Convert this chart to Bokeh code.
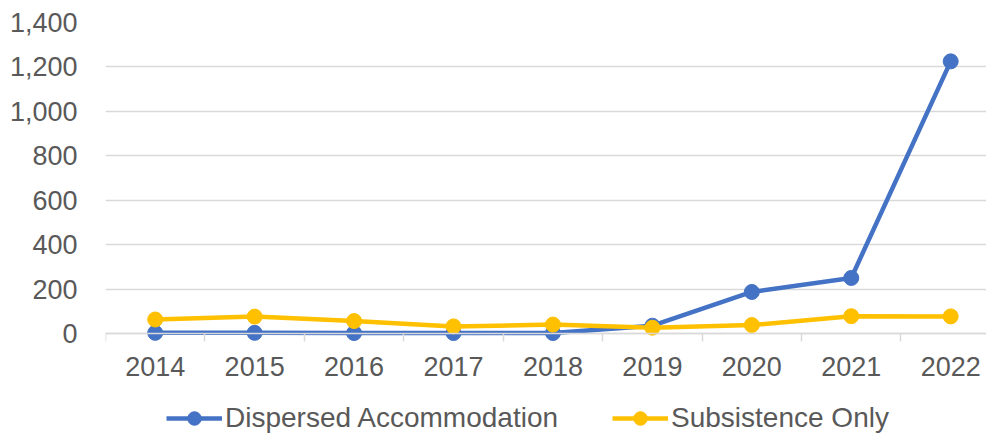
from bokeh.plotting import figure
from bokeh.models import Range1d, FixedTicker, NumeralTickFormatter, Legend, LegendItem
from bokeh.embed import file_html
from bokeh.resources import INLINE

years = [2014, 2015, 2016, 2017, 2018, 2019, 2020, 2021, 2022]
year_labels = ["2014", "2015", "2016", "2017", "2018", "2019", "2020", "2021", "2022"]
dispersed = [3, 3, 2, 2, 2, 35, 187, 250, 1225]
subsistence = [63, 76, 56, 32, 40, 26, 38, 78, 77]
y_ticks = [0, 200, 400, 600, 800, 1000, 1200, 1400]

BLUE = "#4472C4"
YELLOW = "#FFC000"
GRID = "#d9d9d9"
TEXT = "#595959"
FONT = "Liberation Sans"
FS = "27px"

# The frame reaches the bottom of the canvas so that the x labels and the
# legend (drawn inside the frame) are not clipped; the x axis sits at y = 0.
p = figure(width=986, height=435, output_backend="svg", toolbar_location=None,
           x_range=Range1d(2013.5, 2022.36), y_range=Range1d(-459.2, 1400),
           min_border_left=105, min_border_right=0, min_border_top=22, min_border_bottom=0)
p.outline_line_color = None
p.background_fill_color = "white"
p.border_fill_color = "white"

# x axis
xa = p.xaxis[0]
xa.fixed_location = 0
xa.ticker = FixedTicker(ticks=years, minor_ticks=[y - 0.5 for y in years] + [years[-1] + 0.5])
xa.major_label_overrides = {y: l for y, l in zip(years, year_labels)}
xa.major_tick_out = 0
xa.major_tick_in = 0
xa.minor_tick_out = 8
xa.minor_tick_in = 0
xa.minor_tick_line_color = GRID
xa.minor_tick_line_width = 1.5
xa.axis_line_color = GRID
xa.axis_line_width = 1.5
xa.major_label_standoff = 16
xa.major_label_text_font = FONT
xa.major_label_text_font_size = FS
xa.major_label_text_color = TEXT
p.xgrid.visible = False

# y axis
ya = p.yaxis[0]
ya.ticker = FixedTicker(ticks=y_ticks)
ya.formatter = NumeralTickFormatter(format="0,0")
ya.axis_line_color = None
ya.major_tick_line_color = None
ya.minor_tick_line_color = None
ya.major_label_standoff = 22
ya.major_label_text_font = FONT
ya.major_label_text_font_size = FS
ya.major_label_text_color = TEXT
p.ygrid.ticker = FixedTicker(ticks=y_ticks)
p.ygrid.grid_line_color = GRID
p.ygrid.grid_line_width = 1.5

r1 = p.line(years, dispersed, line_color=BLUE, line_width=4.5)
c1 = p.scatter(years, dispersed, size=15, fill_color=BLUE, line_color=BLUE)
r2 = p.line(years, subsistence, line_color=YELLOW, line_width=4.5)
c2 = p.scatter(years, subsistence, size=15, fill_color=YELLOW, line_color=YELLOW)

legend = Legend(items=[LegendItem(label="Dispersed Accommodation", renderers=[r1, c1]),
                       LegendItem(label="Subsistence Only", renderers=[r2, c2])],
                location=(61, 0), orientation="horizontal",
                glyph_width=56, glyph_height=34, label_height=34, label_standoff=3,
                spacing=54, padding=0, margin=0,
                border_line_color=None, background_fill_alpha=0,
                label_text_font=FONT, label_text_font_size="28px", label_text_color=TEXT)
p.add_layout(legend)

open("out.html", "w").write(file_html(p, INLINE))
